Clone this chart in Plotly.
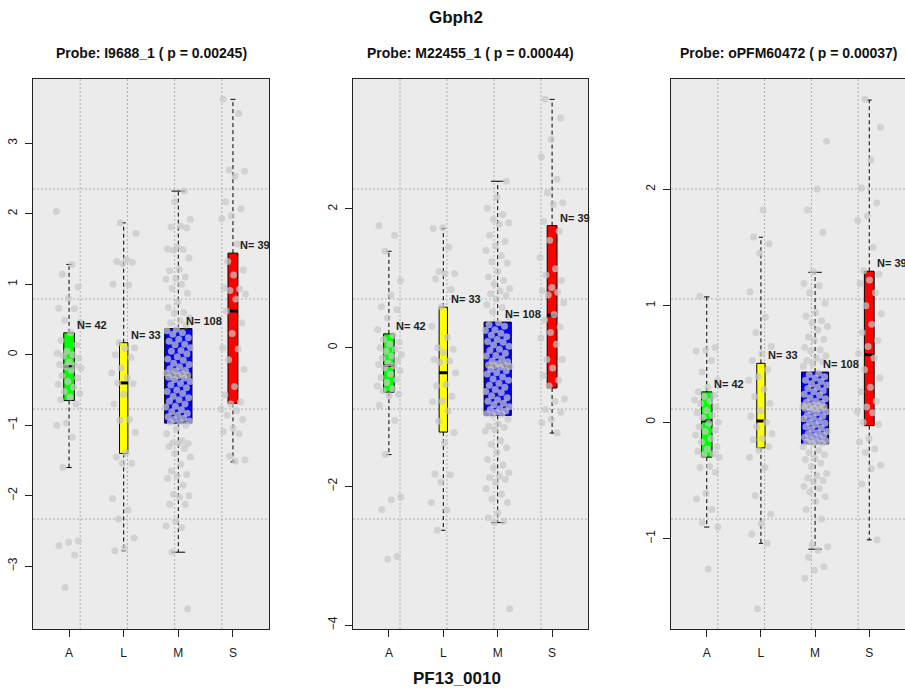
import plotly.graph_objects as go

# ---- data -------------------------------------------------------------
categories = ["A", "L", "M", "S"]
group_n = [42, 33, 108, 39]
gene = "Gbph2"
x_label = "PF13_0010"
probe_titles = [
    "Probe: I9688_1 ( p = 0.00245)",
    "Probe: M22455_1 ( p = 0.00044)",
    "Probe: oPFM60472 ( p = 0.00037)",
]

# probe I9688_1 expression per group
i9688_A = [2.03, 1.28, 1.14, 0.96, 0.80, 0.66, 0.65, 0.49, 0.46, 0.31,
           0.20, 0.14, 0.05, 0.02, 0.00, -0.02, -0.05, -0.10, -0.14, -0.15,
           -0.17, -0.19, -0.22, -0.30, -0.33, -0.38, -0.42, -0.46, -0.52, -0.55,
           -0.60, -0.64, -0.70, -0.97, -1.00, -1.17, -1.60, -2.64, -2.66, -2.71,
           -2.84, -3.30]
i9688_L = [1.87, 1.72, 1.35, 1.32, 1.31, 1.29, 1.00, 0.99, 0.17, 0.10,
           0.09, 0.00, -0.04, -0.19, -0.26, -0.33, -0.40, -0.41, -0.56, -0.70,
           -0.92, -0.93, -1.10, -1.39, -1.45, -1.54, -1.54, -2.04, -2.20, -2.33,
           -2.60, -2.74, -2.78]
i9688_M = [2.32, 2.17, 1.92, 1.82, 1.81, 1.80, 1.52, 1.50, 1.49, 1.48,
           1.37, 1.21, 1.19, 1.10, 1.08, 1.07, 1.00, 0.94, 0.87, 0.75,
           0.67, 0.60, 0.59, 0.52, 0.48, 0.45, 0.42,
           0.36, 0.34, 0.31, 0.29, 0.24, 0.22, 0.19, 0.15, 0.14, 0.10,
           0.06, 0.05, 0.01, -0.03, -0.06, -0.08, -0.12, -0.14, -0.17, -0.20,
           -0.22, -0.23, -0.26, -0.27, -0.28, -0.29, -0.30, -0.32, -0.33, -0.35,
           -0.38, -0.41, -0.43, -0.47, -0.50, -0.52, -0.55, -0.59, -0.61, -0.64,
           -0.66, -0.70, -0.73, -0.74, -0.78, -0.81, -0.83, -0.86, -0.88, -0.90,
           -0.92, -0.94, -0.95, -0.96,
           -1.00, -1.05, -1.12, -1.22, -1.25, -1.26, -1.26, -1.30, -1.33, -1.40,
           -1.45, -1.55, -1.65, -1.70, -1.72, -1.75, -1.85, -1.98, -2.00, -2.02,
           -2.12, -2.12, -2.36, -2.43, -2.45, -2.80, -3.60]
i9688_S = [3.62, 3.42, 2.62, 2.60, 2.53, 2.17, 2.07, 1.97, 1.93, 1.57,
           1.32, 1.20, 1.13, 0.95, 0.93, 0.91, 0.86, 0.79, 0.62, 0.45,
           0.30, 0.10, 0.08, -0.07, -0.21, -0.45, -0.57, -0.67, -0.70, -0.77,
           -0.79, -0.86, -0.92, -1.04, -1.09, -1.12, -1.44, -1.49, -1.51]

# probe M22455_1 expression per group
m22455_A = [1.76, 1.62, 1.39, 0.97, 0.76, 0.59, 0.55, 0.43, 0.26, 0.18,
            0.12, 0.08, 0.05, 0.00, -0.02, -0.05, -0.10, -0.12, -0.15, -0.18,
            -0.22, -0.24, -0.26, -0.29, -0.33, -0.38, -0.43, -0.46, -0.50, -0.55,
            -0.59, -0.62, -0.67, -0.69, -0.83, -1.05, -1.54, -2.15, -2.19, -2.33,
            -3.01, -3.05]
m22455_L = [1.73, 1.72, 1.45, 1.10, 1.07, 1.07, 0.99, 0.84, 0.59, 0.31,
            0.15, 0.00, -0.02, -0.07, -0.17, -0.19, -0.21, -0.36, -0.53, -0.55,
            -0.70, -0.77, -0.78, -0.91, -1.06, -1.22, -1.37, -1.82, -1.83, -1.94,
            -2.23, -2.34, -2.63]
m22455_M = [2.40, 2.17, 2.01, 1.92, 1.85, 1.80, 1.78, 1.62, 1.53, 1.47,
            1.40, 1.33, 1.24, 1.22, 1.10, 1.02, 0.97, 0.92, 0.85, 0.82,
            0.78, 0.75, 0.70, 0.62, 0.58, 0.52, 0.45,
            0.36, 0.33, 0.31, 0.26, 0.25, 0.21, 0.18, 0.16, 0.12, 0.09,
            0.08, 0.04, 0.02, -0.02, -0.04, -0.08, -0.11, -0.12, -0.16, -0.19,
            -0.20, -0.23, -0.25, -0.25, -0.26, -0.27, -0.28, -0.31, -0.33, -0.36,
            -0.38, -0.42, -0.45, -0.47, -0.51, -0.54, -0.57, -0.60, -0.63, -0.65,
            -0.69, -0.72, -0.75, -0.77, -0.80, -0.82, -0.85, -0.88, -0.89, -0.91,
            -0.93, -0.95, -0.96, -0.97,
            -1.03, -1.10, -1.13, -1.15, -1.18, -1.20, -1.34, -1.39, -1.44, -1.51,
            -1.61, -1.69, -1.73, -1.80, -1.85, -1.87, -1.90, -1.94, -2.03, -2.11,
            -2.18, -2.23, -2.38, -2.45, -2.50, -2.52, -3.76]
m22455_S = [3.58, 3.31, 3.00, 2.75, 2.43, 2.23, 2.09, 2.07, 1.82, 1.68,
            1.55, 1.30, 1.14, 1.05, 0.97, 0.87, 0.82, 0.80, 0.76, 0.65,
            0.48, 0.40, 0.30, 0.22, 0.14, 0.05, -0.17, -0.17, -0.29, -0.40,
            -0.47, -0.55, -0.74, -0.77, -0.89, -0.93, -1.03, -1.08, -1.23]

# probe oPFM60472 expression per group
opfm60472_A = [1.08, 0.64, 0.62, 0.61, 0.53, 0.43, 0.36, 0.30, 0.26, 0.23,
               0.22, 0.19, 0.18, 0.16, 0.13, 0.10, 0.08, 0.06, 0.04, 0.00,
               -0.01, -0.04, -0.07, -0.08, -0.11, -0.14, -0.17, -0.21, -0.23, -0.25,
               -0.27, -0.28, -0.30, -0.38, -0.39, -0.43, -0.61, -0.66, -0.75, -0.86,
               -0.90, -1.26]
opfm60472_L = [1.82, 1.59, 1.53, 1.45, 1.12, 0.90, 0.77, 0.65, 0.59, 0.53,
               0.45, 0.39, 0.36, 0.28, 0.22, 0.16, 0.10, 0.05, 0.00, -0.04,
               -0.10, -0.14, -0.15, -0.21, -0.24, -0.30, -0.39, -0.63, -0.79, -0.87,
               -0.96, -1.04, -1.60]
opfm60472_M = [2.41, 2.00, 1.82, 1.63, 1.29, 1.19, 1.17, 1.11, 1.02, 0.94,
               0.91, 0.87, 0.85, 0.82, 0.79, 0.73, 0.71, 0.70, 0.64, 0.62,
               0.61, 0.57, 0.55, 0.53, 0.52, 0.50, 0.48,
               0.42, 0.41, 0.39, 0.38, 0.36, 0.35, 0.33, 0.32, 0.30, 0.29,
               0.27, 0.26, 0.24, 0.23, 0.21, 0.20, 0.18, 0.17, 0.16, 0.15,
               0.14, 0.14, 0.13, 0.13, 0.12, 0.12, 0.11, 0.10, 0.09, 0.08,
               0.06, 0.05, 0.04, 0.03, 0.01, 0.00, -0.01, -0.02, -0.04, -0.05,
               -0.06, -0.08, -0.09, -0.10, -0.11, -0.12, -0.13, -0.14, -0.15, -0.16,
               -0.17, -0.17, -0.18, -0.18,
               -0.21, -0.24, -0.26, -0.28, -0.31, -0.32, -0.35, -0.38, -0.44, -0.46,
               -0.48, -0.50, -0.51, -0.55, -0.57, -0.60, -0.64, -0.68, -0.75, -0.83,
               -1.05, -1.07, -1.10, -1.16, -1.24, -1.27, -1.34]
opfm60472_S = [2.77, 2.53, 2.25, 2.01, 1.88, 1.77, 1.73, 1.50, 1.30, 1.27,
               1.22, 1.19, 1.11, 1.00, 0.93, 0.84, 0.77, 0.70, 0.65, 0.59,
               0.55, 0.45, 0.38, 0.30, 0.26, 0.18, 0.13, 0.09, 0.08, 0.00,
               -0.02, -0.14, -0.17, -0.23, -0.26, -0.37, -0.40, -0.53, -1.01]

# boxplot statistics (lower whisker, Q1, median, Q3, upper whisker) per group
i9688_lo = [-1.60, -2.78, -2.80, -1.52]
i9688_q1 = [-0.65, -1.40, -0.97, -0.69]
i9688_med = [-0.17, -0.40, -0.29, 0.62]
i9688_q3 = [0.31, 0.17, 0.37, 1.44]
i9688_hi = [1.28, 1.87, 2.32, 3.62]

m22455_lo = [-1.54, -2.63, -2.52, -1.23]
m22455_q1 = [-0.64, -1.215, -0.975, -0.58]
m22455_med = [-0.255, -0.36, -0.26, 0.47]
m22455_q3 = [0.20, 0.585, 0.37, 1.76]
m22455_hi = [1.39, 1.72, 2.40, 3.58]

opfm60472_lo = [-0.90, -1.04, -1.09, -1.01]
opfm60472_q1 = [-0.30, -0.22, -0.186, -0.03]
opfm60472_med = [0.01, 0.01, 0.13, 0.58]
opfm60472_q3 = [0.26, 0.505, 0.43, 1.295]
opfm60472_hi = [1.075, 1.587, 1.286, 2.764]

# y tick values per panel
i9688_ticks = [-3, -2, -1, 0, 1, 2, 3]
m22455_ticks = [-4, -2, 0, 2]
opfm60472_ticks = [-1, 0, 1, 2]

# ---- assemble panels --------------------------------------------------
panels = [
    dict(points=[i9688_A, i9688_L, i9688_M, i9688_S],
         lo=i9688_lo, q1=i9688_q1, med=i9688_med, q3=i9688_q3, hi=i9688_hi,
         ticks=i9688_ticks),
    dict(points=[m22455_A, m22455_L, m22455_M, m22455_S],
         lo=m22455_lo, q1=m22455_q1, med=m22455_med, q3=m22455_q3, hi=m22455_hi,
         ticks=m22455_ticks),
    dict(points=[opfm60472_A, opfm60472_L, opfm60472_M, opfm60472_S],
         lo=opfm60472_lo, q1=opfm60472_q1, med=opfm60472_med, q3=opfm60472_q3,
         hi=opfm60472_hi, ticks=opfm60472_ticks),
]
for p in panels:
    for pts, n in zip(p["points"], group_n):
        assert len(pts) == n, (len(pts), n)

box_fill = ["#00ff00", "#ffff00", "#0000ff", "#ff0000"]
W, H = 905, 690
x_domains = [[33 / W, 269 / W], [353 / W, 588 / W], [671 / W, 1.0]]
y_domain = [1 - 629 / H, 1 - 79 / H]
x_range = [0.5 - 0.04 * 4, 4.5 + 0.04 * 4]
FONT = "Liberation Sans, Arial, sans-serif"

fig = go.Figure()
shapes = []
annotations = []
xpos = [1, 2, 3, 4]
max_n = max(group_n)
box_w = [0.5 * n / max_n for n in group_n]

for k, p in enumerate(panels):
    sfx = "" if k == 0 else str(k + 1)
    xa, ya = "x" + sfx, "y" + sfx

    allv = [v for grp in p["points"] for v in grp]
    vmin, vmax = min(allv), max(allv)
    span = vmax - vmin
    y_range = [vmin - 0.04 * span, vmax + 0.04 * span]

    # dotted grid: 5 equal cells in each direction
    for j in range(1, 5):
        gx = x_range[0] + j * (x_range[1] - x_range[0]) / 5
        gy = y_range[0] + j * (y_range[1] - y_range[0]) / 5
        shapes.append(dict(type="line", xref=xa, yref=ya + " domain", x0=gx, x1=gx,
                           y0=0, y1=1, layer="below",
                           line=dict(color="#b0b0b0", width=1, dash="2px,2px")))
        shapes.append(dict(type="line", xref=xa + " domain", yref=ya, x0=0, x1=1,
                           y0=gy, y1=gy, layer="below",
                           line=dict(color="#b0b0b0", width=1, dash="2px,2px")))

    # whiskers (dashed)
    wx, wy = [], []
    for i in range(4):
        wx += [xpos[i], xpos[i], None, xpos[i], xpos[i], None]
        wy += [p["q3"][i], p["hi"][i], None, p["q1"][i], p["lo"][i], None]
    fig.add_trace(go.Scatter(x=wx, y=wy, mode="lines", xaxis=xa, yaxis=ya,
                             line=dict(color="black", width=1, dash="4px,3px"),
                             hoverinfo="skip", showlegend=False))
    # staples
    sx, sy = [], []
    for i in range(4):
        h = box_w[i] / 4
        sx += [xpos[i] - h, xpos[i] + h, None, xpos[i] - h, xpos[i] + h, None]
        sy += [p["hi"][i], p["hi"][i], None, p["lo"][i], p["lo"][i], None]
    fig.add_trace(go.Scatter(x=sx, y=sy, mode="lines", xaxis=xa, yaxis=ya,
                             line=dict(color="black", width=1),
                             hoverinfo="skip", showlegend=False))
    # boxes
    fig.add_trace(go.Bar(x=xpos, y=[q3 - q1 for q1, q3 in zip(p["q1"], p["q3"])],
                         base=p["q1"], width=box_w, xaxis=xa, yaxis=ya,
                         marker=dict(color=box_fill, line=dict(color="black", width=1)),
                         hoverinfo="skip", showlegend=False))
    # medians
    mx, my = [], []
    for i in range(4):
        h = box_w[i] / 2
        mx += [xpos[i] - h, xpos[i] + h, None]
        my += [p["med"][i], p["med"][i], None]
    fig.add_trace(go.Scatter(x=mx, y=my, mode="lines", xaxis=xa, yaxis=ya,
                             line=dict(color="black", width=3),
                             hoverinfo="skip", showlegend=False))
    # jittered observations
    px, py = [], []
    for i, grp in enumerate(p["points"]):
        for j, v in enumerate(grp):
            frac = (j * 0.6180339887 + 0.37 * i + 0.11 * k) % 1.0
            px.append(xpos[i] + 0.46 * (frac - 0.5))
            py.append(v)
    fig.add_trace(go.Scatter(x=px, y=py, mode="markers", xaxis=xa, yaxis=ya,
                             marker=dict(size=7, color="rgba(200,200,200,0.72)",
                                         line=dict(width=0)),
                             hoverinfo="skip", showlegend=False))
    # group sizes
    for i in range(4):
        annotations.append(dict(x=xpos[i] + 0.1, y=p["q3"][i], xref=xa, yref=ya,
                                text="<b>N= %d</b>" % len(p["points"][i]),
                                showarrow=False, xanchor="left", yanchor="bottom",
                                font=dict(size=11, color="#222222", family=FONT)))
    # probe title
    annotations.append(dict(x=sum(x_domains[k]) / 2, y=1 - 53 / H, xref="paper",
                            yref="paper", text="<b>%s</b>" % probe_titles[k],
                            showarrow=False, xanchor="center", yanchor="middle",
                            font=dict(size=14, color="#111111", family=FONT)))

    axis_common = dict(showline=True, linecolor="#222222", linewidth=1,
                       ticks="outside", ticklen=7, tickcolor="#222222",
                       showgrid=False, zeroline=False,
                       tickfont=dict(size=12, color="#1a1a1a", family=FONT))
    fig.layout["xaxis" + sfx] = dict(axis_common, domain=x_domains[k], range=x_range,
                                     tickvals=xpos, ticktext=categories, mirror=True,
                                     anchor=ya, ticklabelstandoff=6)
    fig.layout["yaxis" + sfx] = dict(axis_common, domain=y_domain, range=y_range,
                                     tickvals=p["ticks"], tickangle=-90,
                                     mirror=(k < 2), anchor=xa, ticklabelstandoff=3)

annotations.append(dict(x=456 / W, y=1 - 17 / H, xref="paper", yref="paper",
                        text="<b>%s</b>" % gene, showarrow=False,
                        xanchor="center", yanchor="middle",
                        font=dict(size=17, color="#111111", family=FONT)))
annotations.append(dict(x=457 / W, y=1 - 678 / H, xref="paper", yref="paper",
                        text="<b>%s</b>" % x_label, showarrow=False,
                        xanchor="center", yanchor="middle",
                        font=dict(size=17, color="#111111", family=FONT)))

fig.update_layout(width=W, height=H, margin=dict(l=0, r=0, t=0, b=0),
                  paper_bgcolor="white", plot_bgcolor="#ebebeb",
                  barmode="overlay", shapes=shapes, annotations=annotations,
                  font=dict(family=FONT))

fig.write_html("out.html")
